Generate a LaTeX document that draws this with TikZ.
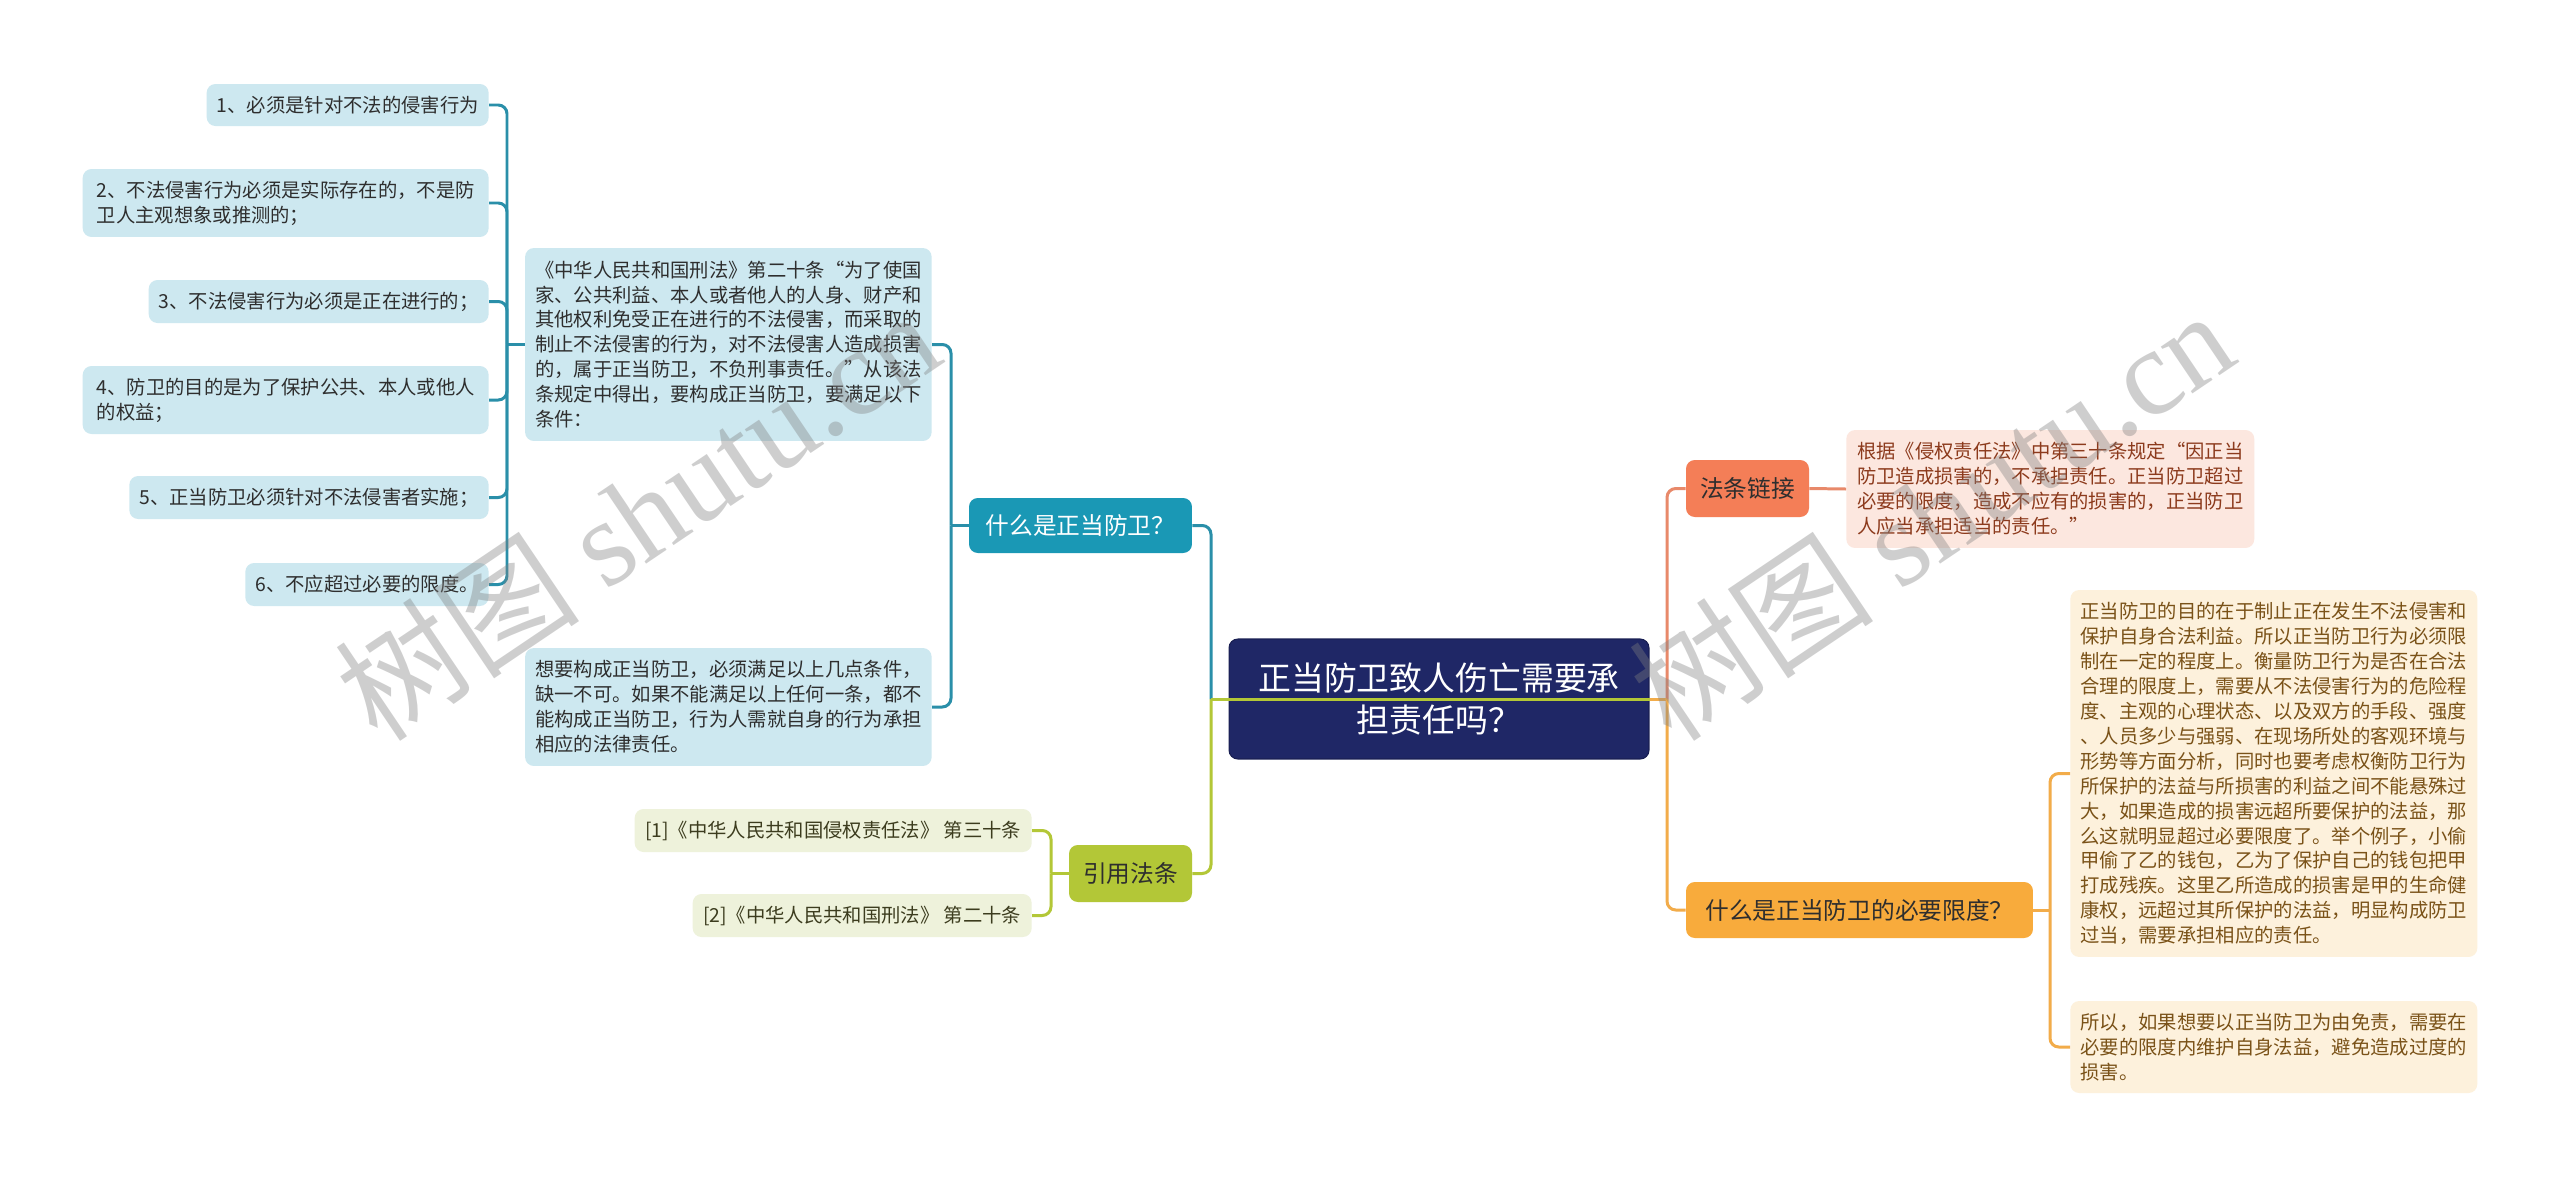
\documentclass[tikz,border=0pt]{standalone}
\usepackage{fontspec}
\setmainfont{Noto Sans CJK SC}
\newfontfamily\wmlatin{Liberation Serif}
\usepackage{tikz}
\usetikzlibrary{positioning, calc}

\definecolor{rootnavy}{HTML}{1F2766}
\definecolor{mainteal}{HTML}{1A98B5}
\definecolor{wireteal}{HTML}{2A8FA9}
\definecolor{leafblue}{HTML}{CDE8F0}
\definecolor{mainolive}{HTML}{B3C737}
\definecolor{leafolive}{HTML}{EEF2DB}
\definecolor{maincoral}{HTML}{F47E57}
\definecolor{wirecoral}{HTML}{E8896A}
\definecolor{leafpink}{HTML}{FCE7DF}
\definecolor{mainamber}{HTML}{F8AB3C}
\definecolor{wireamber}{HTML}{F2AC4A}
\definecolor{leafcream}{HTML}{FDF1DC}
\definecolor{inkdark}{HTML}{2E2E2E}
\definecolor{inkolive}{HTML}{3C3C1E}
\definecolor{inkpink}{HTML}{8C3A1C}
\definecolor{inkcream}{HTML}{7A5218}

\begin{document}
\begin{tikzpicture}[x=0.02cm, y=-0.02cm,
  txt/.style={rounded corners=5pt, inner xsep=0.2cm, inner ysep=0pt, align=left,
    font=\fontsize{11}{14.2}\selectfont},
  blueleaf/.style={txt, fill=leafblue, text=inkdark},
  oliveleaf/.style={txt, fill=leafolive, text=inkolive},
  pinkleaf/.style={txt, fill=leafpink, text=inkpink},
  creamleaf/.style={txt, fill=leafcream, text=inkcream},
  topic/.style={rounded corners=5pt, inner sep=0pt, font=\fontsize{13.5}{16}\selectfont},
  wire/.style={line width=1.7pt, rounded corners=5pt},
  wmark/.style={text=gray, opacity=0.38, rotate=34, font=\fontsize{70}{74}\selectfont}
]
\useasboundingbox (0,0) rectangle (2560,1177);
\fill[white] (0,0) rectangle (2560,1177);

% Root
\node[rounded corners=5pt, fill=rootnavy, draw=rootnavy!80!black, line width=0.6pt,
  text=white, align=center, minimum width=8.4cm, minimum height=2.4cm,
  font=\fontsize{18.7}{23.9}\selectfont] (root) at (1439,699)
  {正当防卫致人伤亡需要承\\担责任吗？};

% Left: 什么是正当防卫？
\node[topic, fill=mainteal, text=white, minimum width=4.46cm, minimum height=1.1cm] (what) at (1080.5,525.5) {什么是正当防卫？};
\node[blueleaf, anchor=east, minimum width=8.12cm, minimum height=3.86cm] (law) at (932,344.5)
  {《中华人民共和国刑法》第二十条“为了使国\\家、公共利益、本人或者他人的人身、财产和\\其他权利免受正在进行的不法侵害，而采取的\\制止不法侵害的行为，对不法侵害人造成损害\\的，属于正当防卫，不负刑事责任。”从该法\\条规定中得出，要构成正当防卫，要满足以下\\条件：};
\node[blueleaf, anchor=east, minimum width=8.12cm, minimum height=2.36cm] (need) at (932,707)
  {想要构成正当防卫，必须满足以上几点条件，\\缺一不可。如果不能满足以上任何一条，都不\\能构成正当防卫，行为人需就自身的行为承担\\相应的法律责任。};

\node[blueleaf, anchor=east, minimum width=5.62cm, minimum height=0.84cm] (l1) at (489,105) {1、必须是针对不法的侵害行为};
\node[blueleaf, anchor=east, minimum width=8.12cm, minimum height=1.36cm] (l2) at (489,203) {2、不法侵害行为必须是实际存在的，不是防\\卫人主观想象或推测的；};
\node[blueleaf, anchor=east, minimum width=6.8cm, minimum height=0.86cm] (l3) at (489,301.5) {3、不法侵害行为必须是正在进行的；};
\node[blueleaf, anchor=east, minimum width=8.12cm, minimum height=1.36cm] (l4) at (489,400) {4、防卫的目的是为了保护公共、本人或他人\\的权益；};
\node[blueleaf, anchor=east, minimum width=7.18cm, minimum height=0.86cm] (l5) at (489,497.5) {5、正当防卫必须针对不法侵害者实施；};
\node[blueleaf, anchor=east, minimum width=4.86cm, minimum height=0.86cm] (l6) at (489,584.5) {6、不应超过必要的限度。};

% Left: 引用法条
\node[topic, fill=mainolive, text=inkdark, minimum width=2.46cm, minimum height=1.14cm] (cite) at (1130.5,873.5) {引用法条};
\node[oliveleaf, anchor=east, minimum width=7.94cm, minimum height=0.86cm] (ref1) at (1032,830.5) {[1]《中华人民共和国侵权责任法》 第三十条};
\node[oliveleaf, anchor=east, minimum width=6.78cm, minimum height=0.86cm] (ref2) at (1032,915.5) {[2]《中华人民共和国刑法》 第二十条};

% Right: 法条链接
\node[topic, fill=maincoral, text=inkdark, minimum width=2.46cm, minimum height=1.14cm] (link) at (1747.5,488.5) {法条链接};
\node[pinkleaf, anchor=west, minimum width=8.16cm, minimum height=2.36cm] (linknote) at (1846,489)
  {根据《侵权责任法》中第三十条规定“因正当\\防卫造成损害的，不承担责任。正当防卫超过\\必要的限度，造成不应有的损害的，正当防卫\\人应当承担适当的责任。”};

% Right: 什么是正当防卫的必要限度？
\node[topic, fill=mainamber, text=inkdark, minimum width=6.94cm, minimum height=1.12cm] (limit) at (1859.5,910) {什么是正当防卫的必要限度？};
\node[creamleaf, anchor=west, minimum width=8.14cm, minimum height=7.34cm] (limitA) at (2070,773.5)
  {正当防卫的目的在于制止正在发生不法侵害和\\保护自身合法利益。所以正当防卫行为必须限\\制在一定的程度上。衡量防卫行为是否在合法\\合理的限度上，需要从不法侵害行为的危险程\\度、主观的心理状态、以及双方的手段、强度\\、人员多少与强弱、在现场所处的客观环境与\\形势等方面分析，同时也要考虑权衡防卫行为\\所保护的法益与所损害的利益之间不能悬殊过\\大，如果造成的损害远超所要保护的法益，那\\么这就明显超过必要限度了。举个例子，小偷\\甲偷了乙的钱包，乙为了保护自己的钱包把甲\\打成残疾。这里乙所造成的损害是甲的生命健\\康权，远超过其所保护的法益，明显构成防卫\\过当，需要承担相应的责任。};
\node[creamleaf, anchor=west, minimum width=8.14cm, minimum height=1.84cm] (limitB) at (2070,1047)
  {所以，如果想要以正当防卫为由免责，需要在\\必要的限度内维护自身法益，避免造成过度的\\损害。};

% Junctions
\coordinate (jlaw) at (507,344.5);
\coordinate (jwhat) at (951,525.5);
\coordinate (jleft) at (1211,699);
\coordinate (jcite) at (1051,873.5);
\coordinate (jright) at (1667,699);
\coordinate (jlimit) at (2050,910);

% Connectors
\draw[wire, wireteal] (law.west) -- (jlaw);
\foreach \n in {l1,l2,l3,l4,l5,l6}
  \draw[wire, wireteal] (\n.east) -| (jlaw);
\draw[wire, wireteal] (what.west) -- (jwhat);
\draw[wire, wireteal] (law.east) -| (jwhat);
\draw[wire, wireteal] (need.east) -| (jwhat);
\draw[wire, wireteal] (what.east) -| (jleft);
\draw[wire, mainolive] (cite.east) -| (jleft);
\draw[wire, mainolive] (cite.west) -- (jcite);
\draw[wire, mainolive] (ref1.east) -| (jcite);
\draw[wire, mainolive] (ref2.east) -| (jcite);
\draw[wire, wirecoral] (link.west) -| (jright);
\draw[wire, wireamber] (limit.west) -| (jright);
\draw[wire, wirecoral] (link.east) -- (linknote.west);
\draw[wire, wireamber] (limit.east) -- (jlimit);
\draw[wire, wireamber] (limitA.west) -| (jlimit);
\draw[wire, wireamber] (limitB.west) -| (jlimit);
\draw[wire, mainolive] (jleft) -- (root.east);
\draw[wire, wireamber] (root.east) -- (jright);

% Watermark
\node[wmark] (wm1) at (637,514) {树图 {\wmlatin shutu.cn}};
\node[wmark] (wm2) at (1931,514) {树图 {\wmlatin shutu.cn}};
\end{tikzpicture}
\end{document}
